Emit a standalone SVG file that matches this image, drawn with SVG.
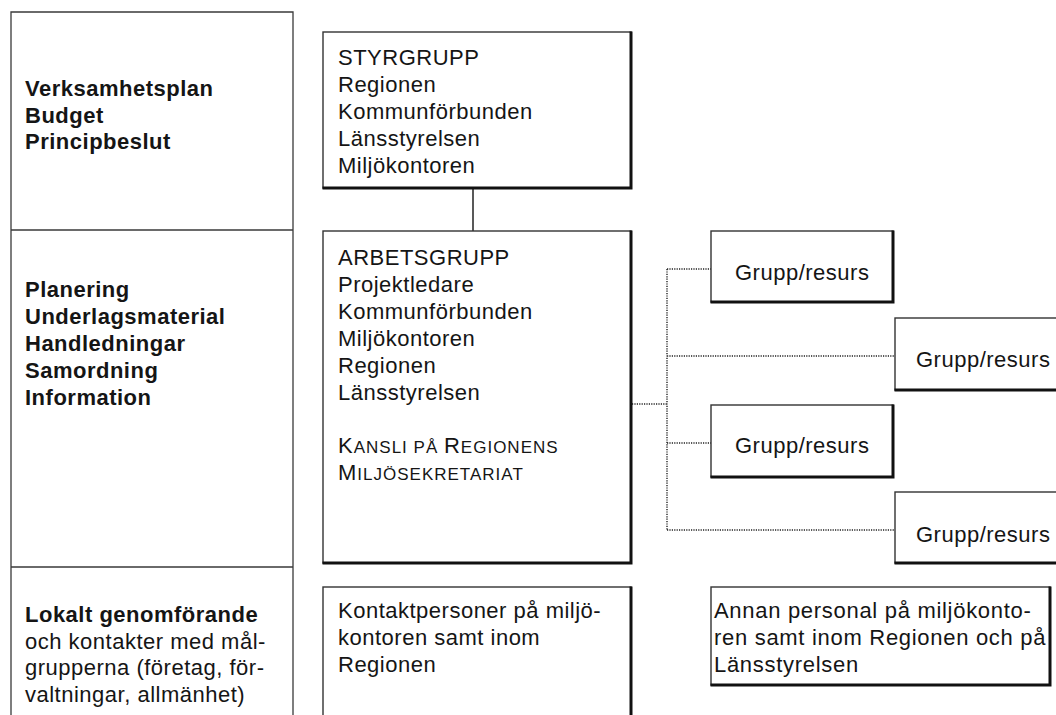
<svg xmlns="http://www.w3.org/2000/svg" width="1056" height="715" viewBox="0 0 1056 715">
<style>
text{font-family:"Liberation Sans",Arial,sans-serif;font-size:22px;fill:#151515;letter-spacing:0.5px}
.b{font-weight:bold}
.sc{font-size:17px}
.frame{fill:none;stroke:#3a3a3a;stroke-width:1.3}
.box{fill:#fff;stroke:#333;stroke-width:1.4}
.sh{fill:none;stroke:#111;stroke-width:3;stroke-linecap:square}
.line{fill:none;stroke:#222;stroke-width:1.5}
.dot{fill:none;stroke:#222;stroke-width:1.4;stroke-dasharray:1.2 1.2}
</style>
<rect width="1056" height="715" fill="#fff"/>
<g id="table">
<path class="frame" d="M11,720 V12 H293 V720 M11,230 H293 M11,567 H293"/>
<text x="25" y="96" class="b">Verksamhetsplan</text>
<text x="25" y="122.5" class="b">Budget</text>
<text x="25" y="149" class="b">Principbeslut</text>
<text x="25" y="297" class="b">Planering</text>
<text x="25" y="324" class="b">Underlagsmaterial</text>
<text x="25" y="351" class="b">Handledningar</text>
<text x="25" y="378" class="b">Samordning</text>
<text x="25" y="405" class="b">Information</text>
<text x="25" y="622" class="b">Lokalt genomförande</text>
<text x="25" y="648.5">och kontakter med mål-</text>
<text x="25" y="675">grupperna (företag, för-</text>
<text x="25" y="701.5">valtningar, allmänhet)</text>
</g>
<g id="connectors">
<path class="line" d="M473,188 V231"/>
<path class="dot" d="M632,404 H667 M667,269 V530 M667,269 H711 M667,356 H895 M667,443 H711 M667,530 H895"/>
</g>
<g id="styrgrupp">
<rect class="box" x="323" y="32" width="308" height="156"/>
<path class="sh" d="M631,33 V188 H324"/>
<text x="338" y="65">STYRGRUPP</text>
<text x="338" y="92">Regionen</text>
<text x="338" y="119">Kommunförbunden</text>
<text x="338" y="146">Länsstyrelsen</text>
<text x="338" y="173">Miljökontoren</text>
</g>
<g id="arbetsgrupp">
<rect class="box" x="323" y="231" width="308" height="332"/>
<path class="sh" d="M631,232 V563 H324"/>
<text x="338" y="265">ARBETSGRUPP</text>
<text x="338" y="292">Projektledare</text>
<text x="338" y="319">Kommunförbunden</text>
<text x="338" y="346">Miljökontoren</text>
<text x="338" y="373">Regionen</text>
<text x="338" y="400">Länsstyrelsen</text>
<text x="338" y="453" style="letter-spacing:1px">K<tspan class="sc">ANSLI PÅ </tspan>R<tspan class="sc">EGIONENS</tspan></text>
<text x="338" y="480" style="letter-spacing:1px">M<tspan class="sc">ILJÖSEKRETARIAT</tspan></text>
</g>
<g id="grupp1">
<rect class="box" x="711" y="231" width="182" height="71"/>
<path class="sh" d="M893,232 V302 H712"/>
<text x="735" y="280">Grupp/resurs</text>
</g>
<g id="grupp2">
<rect class="box" x="895" y="318" width="170" height="72"/>
<path class="sh" d="M896,390 H1060"/>
<text x="916" y="367">Grupp/resurs</text>
</g>
<g id="grupp3">
<rect class="box" x="711" y="405" width="182" height="72"/>
<path class="sh" d="M893,406 V477 H712"/>
<text x="735" y="453">Grupp/resurs</text>
</g>
<g id="grupp4">
<rect class="box" x="895" y="492" width="170" height="71"/>
<path class="sh" d="M896,563 H1060"/>
<text x="916" y="542">Grupp/resurs</text>
</g>
<g id="kontaktpersoner">
<rect class="box" x="323" y="587" width="308" height="140"/>
<path class="sh" d="M631,588 V720"/>
<text x="338" y="618">Kontaktpersoner på miljö-</text>
<text x="338" y="645">kontoren samt inom</text>
<text x="338" y="672">Regionen</text>
</g>
<g id="annan">
<rect class="box" x="711" y="587" width="339" height="98"/>
<path class="sh" d="M1050,588 V685 H712"/>
<text x="714" y="618" style="letter-spacing:0.7px">Annan personal på miljökonto-</text>
<text x="714" y="645" style="letter-spacing:0.7px">ren samt inom Regionen och på</text>
<text x="714" y="672" style="letter-spacing:0.7px">Länsstyrelsen</text>
</g>
</svg>
